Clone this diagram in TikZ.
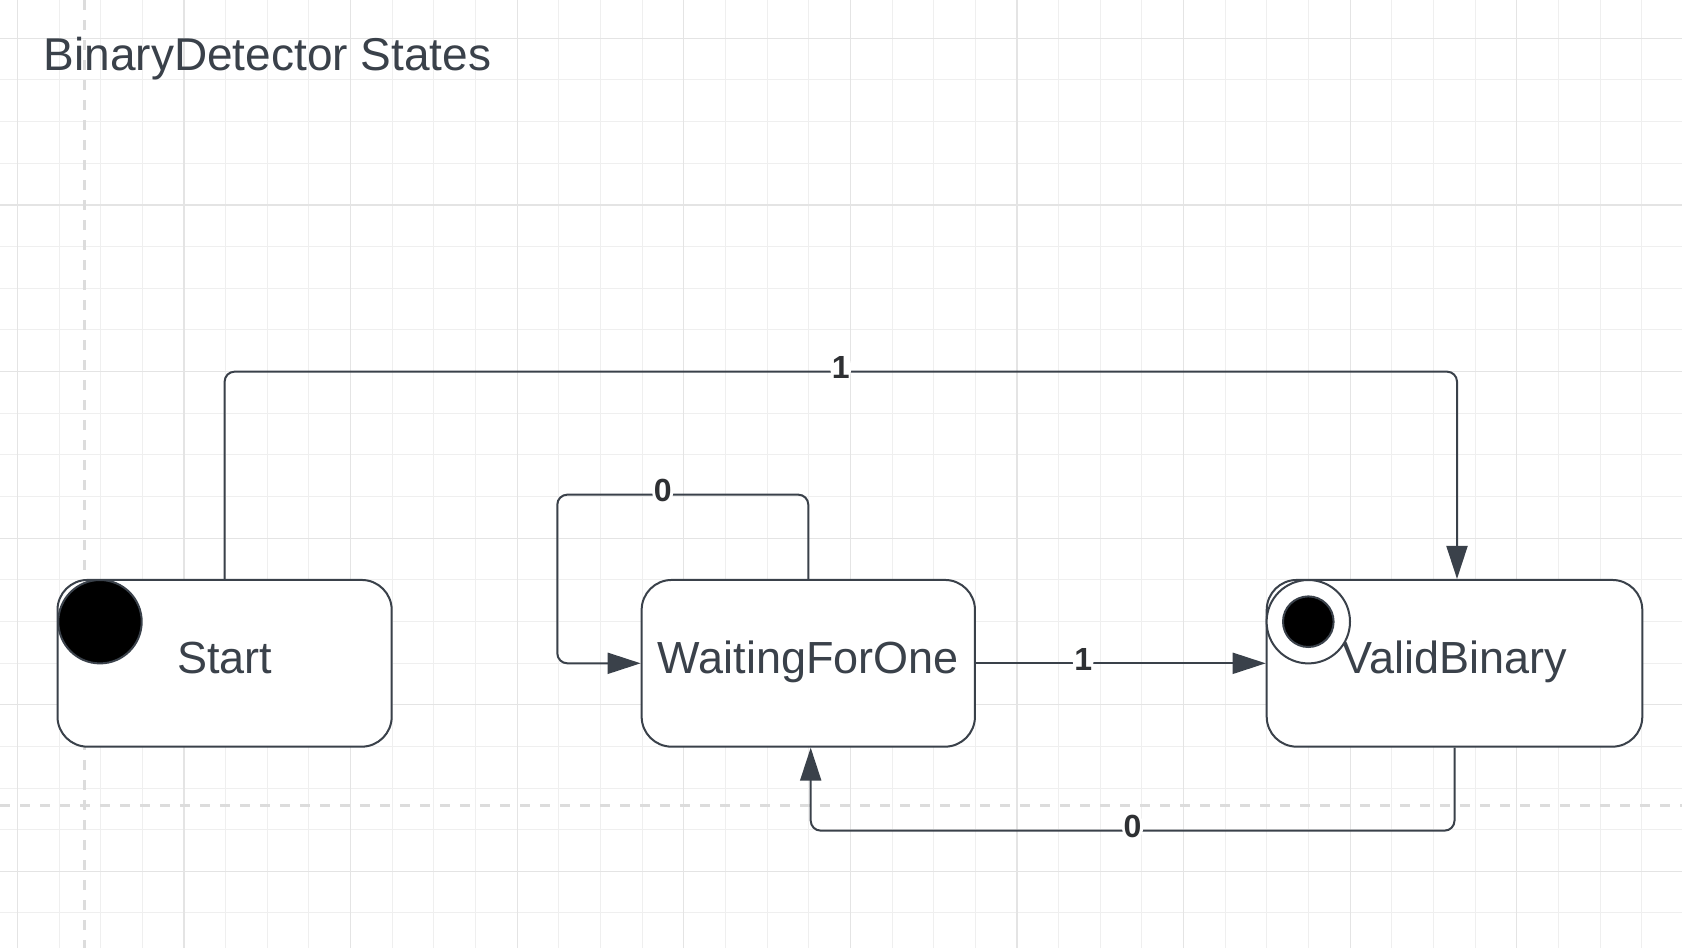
\documentclass[tikz,border=0pt]{standalone}
\usepackage{fontspec}
\setmainfont{Liberation Sans}
\usetikzlibrary{arrows.meta, calc}
\definecolor{inkgray}{HTML}{3A414A}
\definecolor{lblgray}{HTML}{2E3033}
\definecolor{gridminor}{HTML}{EFEFEF}
\definecolor{gridmajor}{HTML}{E4E4E4}
\definecolor{guidegray}{HTML}{DCDCDC}

\tikzset{
  statebox/.style={draw=inkgray, line width=2pt, fill=white, rounded corners=30pt, inner sep=0pt,
    text=inkgray, font=\fontsize{45pt}{54pt}\selectfont, text height=33pt, text depth=13pt,
    minimum height=166.7pt},
  bigdot/.style={circle, draw=inkgray, line width=2pt, fill=black, inner sep=0pt},
  trans/.style={draw=inkgray, line width=2pt, rounded corners=10pt, -{Triangle[length=33pt, width=21pt]}},
  translabel/.style={fill=white, inner sep=1.5pt, yshift=4pt, text=lblgray, font=\fontsize{32pt}{38pt}\selectfont\bfseries},
}

\begin{document}
\begin{tikzpicture}[x=1pt, y=-1pt]
  % Canvas and grid
  \fill[white] (0,0) rectangle (1682,948);
  \useasboundingbox (0,0) rectangle (1682,948);
  \foreach \k in {0,...,40} \draw[gridminor, line width=1pt] ({17.4+41.65*\k},0) -- ++(0,948);
  \foreach \k in {-1,...,22} \draw[gridminor, line width=1pt] (0,{38.3+41.65*\k}) -- ++(1682,0);
  \foreach \k in {0,4,...,40} \draw[gridmajor, line width=1.2pt] ({17.4+41.65*\k},0) -- ++(0,948);
  \foreach \k in {0,4,...,20} \draw[gridmajor, line width=1.2pt] (0,{38.3+41.65*\k}) -- ++(1682,0);

  % Page guides
  \draw[guidegray, line width=3pt, dash pattern=on 10pt off 10pt] (84.6,0) -- (84.6,948);
  \draw[guidegray, line width=3pt, dash pattern=on 10pt off 10pt] (0,805.3) -- (1682,805.3);

  % Title
  \node[anchor=base west, inner sep=0pt, text=inkgray, font=\fontsize{46pt}{55pt}\selectfont] (title) at (43.5,70) {BinaryDetector States};

  % States
  \node[statebox, minimum width=334.2pt] (start) at (224.6,663.3) {Start};
  \node[statebox, minimum width=333.3pt] (waiting) at (808.3,663.3) {WaitingForOne};
  \node[statebox, minimum width=375.6pt] (valid) at (1454.5,663.3) {ValidBinary};

  % Initial and final markers
  \node[bigdot, minimum size=83.4pt] (startdot) at (100,621.7) {};
  \node[bigdot, fill=white, minimum size=83.4pt] (endring) at (1308.3,621.7) {};
  \node[bigdot, minimum size=50.6pt] (enddot) at (endring) {};

  % Transitions
  \draw[trans] (start.north) -- ++(0,-207.3) -| node[translabel, pos=0.25] {1} ($(valid.north)+(2.5,0)$);
  \draw[trans] (waiting.north) |- node[translabel, pos=0.79] {0} ++(-251,-84.3) |- (waiting.west);
  \draw[trans] (waiting.east) -- node[translabel, pos=0.37] {1} (valid.west);
  \draw[trans] (valid.south) -- ++(0,83) -| node[translabel, pos=0.25] {0} ($(waiting.south)+(2.4,0)$);
\end{tikzpicture}
\end{document}
